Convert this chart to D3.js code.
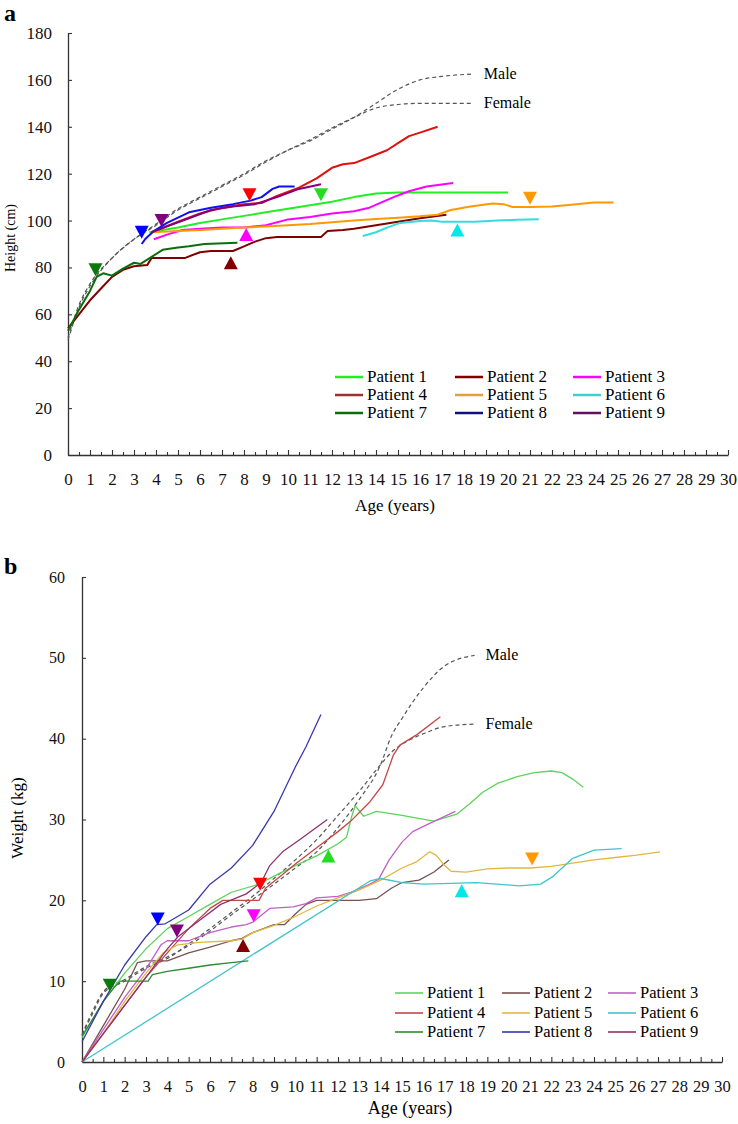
<!DOCTYPE html>
<html><head><meta charset="utf-8">
<script src="https://cdn.jsdelivr.net/npm/d3@7/dist/d3.min.js"></script>
<style>body{margin:0;background:#fff}svg text{font-family:"Liberation Serif","Times New Roman","DejaVu Serif",serif}</style>
</head><body>
<script>
// ---------- Panel a: Height (cm) vs age ----------
const heightMale   = [[0,50],[0.5,64],[1,73],[2,84],[3,92],[4,98.5],[5,105],[6,110],[7,115],[8,120],[9,125.5],[10,130],[11,134],[12,139],[13,144],[14,150],[15,156],[16,160],[17,161.5],[18.4,162.5]];
const heightFemale = [[0,49],[0.5,63],[1,72],[2,84],[3,92],[4,98],[5,104.5],[6,109.5],[7,114.5],[8,119.5],[9,125],[10,130],[11,134.5],[12,139.5],[13,144],[14,148],[15,149.5],[16,150],[18.4,150]];
const heightP1 = [[3.7,95],[5,97],[6,99],[7,100.5],[8,102],[9,103.5],[10,105],[11,106.5],[12,108],[13,110],[14,111.5],[15,112],[20,112]];
const heightP2 = [[0,54],[0.5,60],[1,66],[1.5,71],[2,76],[2.5,79],[3,80.5],[3.6,81],[3.8,84],[5.3,84],[6,86.5],[6.5,87],[7.5,87],[8,89],[8.5,91],[9,92.5],[9.5,93],[11.5,93],[11.8,95.5],[12.5,96],[13,96.5],[14,98],[15,99.5],[16,101],[17.2,102.5]];
const heightP3 = [[3.9,92],[4.5,94],[5.2,96],[6,96.5],[7,97],[8,97],[9,98],[10,100.5],[11,101.5],[12,103],[13,104],[13.7,105.5],[14.3,108],[14.8,110],[15.5,112.5],[16.3,114.5],[17.5,116]];
const heightP4 = [[3.8,95],[5,99.5],[6,103],[7,105.5],[8,107],[8.8,107.5],[9.5,110.5],[10.5,114],[11.3,118],[12,122.5],[12.5,124],[13,124.5],[13.7,127],[14.5,130],[15,133],[15.5,136],[16,137.5],[16.8,140]];
const heightP5 = [[3.8,95],[5,95.5],[6,96],[7,96.5],[8,97],[9,97.5],[10,98],[11,98.5],[12,99.3],[13,100],[14,100.7],[15,101.2],[16,101.8],[16.8,102.5],[17.4,104.5],[18.3,106],[19.3,107.3],[19.8,107],[20.2,105.8],[21,105.8],[22,106],[23,106.8],[23.9,107.7],[24.8,107.7]];
const heightP6 = [[13.4,93.4],[14,95],[14.5,97],[15.1,99],[16,99.8],[16.5,100],[17,99.5],[18.5,99.5],[19.5,100],[20.4,100.3],[21.4,100.6]];
const heightP7 = [[0,53],[0.5,62],[1,70],[1.3,76],[1.6,77.5],[2,76.5],[2.5,79.5],[3,82],[3.3,81.5],[3.8,84.5],[4.3,87.5],[5,88.5],[5.5,89],[6.2,90],[7.7,90.5]];
const heightP8 = [[3.35,90],[3.5,92],[3.9,95.5],[4.5,99],[5.5,103.5],[6.5,105.5],[7.5,107],[8.3,108.5],[8.8,110],[9.3,113.5],[9.6,114.5],[10.3,114.5]];
const heightP9 = [[3.8,95],[4.5,97.5],[5.5,101],[6.5,104.5],[7.5,106],[8.5,107],[9.5,110],[10.5,113.5],[11.5,115.5]];
// markers: patient, age, value, direction
const heightMarkers = [[7,1.25,79,"down"],[8,3.35,95,"down"],[9,4.25,100,"down"],[4,8.25,111,"down"],[3,8.1,94,"up"],[2,7.4,82,"up"],[1,11.5,111,"down"],[5,21,109.5,"down"],[6,17.7,96,"up"]];
const heightTicks = [0,20,40,60,80,100,120,140,160,180];

// ---------- Panel b: Weight (kg) vs age ----------
const weightMale   = [[0,3.4],[0.5,6.3],[1,8.7],[2,10.2],[3,11.8],[4,13],[5,14.4],[6,16.2],[7,18.2],[8,20.1],[9,22],[10,24],[11,26],[12,29],[13,32.5],[14,36.8],[14.5,40.3],[15,42.5],[16,46.3],[17,49],[18.4,50.3]];
const weightFemale = [[0,3.3],[0.5,6],[1,8.5],[2,10],[3,11.6],[4,12.8],[5,14.6],[6,16.5],[7,18.5],[8,20.5],[9,22.7],[10,25],[11,27.5],[12,30.5],[13,33.5],[14,36.8],[14.5,38.3],[15,39.3],[16,40.6],[17,41.5],[18.4,41.8]];
const weightP1 = [[0,3],[1,7.5],[2,11],[3,14],[4,16.5],[5,18],[6,19.5],[7,21],[8.3,22],[9,23],[10,24.3],[11,25.5],[12,27],[12.4,27.8],[12.6,30],[12.8,31.7],[13.2,30.4],[13.8,31],[15,30.5],[16.5,29.8],[17.6,30.7],[18.2,32],[18.8,33.4],[19.5,34.5],[20.4,35.3],[21.2,35.8],[22,36],[22.5,35.8],[23,35],[23.5,34]];
const weightP2 = [[0,0],[1,4.5],[2,9],[2.6,12.3],[3,12.5],[4,12.5],[4.5,13],[5,13.5],[6,14.2],[7,15],[7.5,15.3],[8,16],[9,17],[9.5,17],[10,18.3],[10.5,19.5],[11,20],[12,20],[13,20],[13.8,20.2],[14.5,21.5],[15,22.2],[15.8,22.5],[16.5,23.5],[17.2,25]];
const weightP3 = [[0,0],[1,4],[2,8],[3,11.5],[3.7,14.5],[4,15],[5,15],[5.5,15.5],[6,16],[7,16.7],[7.7,17],[8,17.3],[8.8,19],[9.9,19.2],[10.5,19.6],[11,20.3],[12,20.5],[12.6,21],[13.5,22],[13.9,22.6],[14.4,25],[15,27.2],[15.5,28.5],[16.2,29.4],[17.5,31]];
const weightP4 = [[0,0],[1,3.5],[2,7],[3,10.5],[4,13.5],[5,16.5],[6,19],[6.6,20],[8.3,20],[8.6,21.5],[9.4,23.2],[10,24.5],[11,26.5],[12,28.5],[12.6,29.8],[13.5,32.2],[14.1,34.3],[14.6,38],[14.9,39.2],[15.7,40.5],[16.8,42.7]];
const weightP5 = [[0,0],[1,3.5],[2,7.5],[3,11],[3.8,13.5],[4.5,14.5],[5.5,14.8],[7,15],[7.5,15.2],[8,16],[9,16.9],[10,18],[11,19.3],[12,20.3],[13,21.3],[14,22.5],[15,24],[15.7,24.8],[16.3,26],[16.6,25.6],[17,24.3],[17.3,23.6],[18,23.5],[19,23.9],[20,24],[21,24],[22,24.2],[23,24.6],[24,25],[25,25.3],[26,25.6],[27.1,26]];
const weightP6 = [[0,0],[13.5,22.4],[14,22.7],[15,22.2],[16,22],[18.5,22.2],[20.5,21.8],[21.5,22],[22.1,23],[23,25.2],[24,26.2],[25.3,26.4]];
const weightP7 = [[0,3.2],[0.5,5.3],[1,7.5],[1.5,9.2],[1.8,10],[3.1,10],[3.3,10.8],[4,11.2],[5,11.6],[6,12],[7,12.3],[7.8,12.5]];
const weightP8 = [[0,2.5],[1,7.5],[2,12],[3,15.5],[3.5,17],[3.9,17.1],[5,18.8],[6,22],[7,24],[8,26.8],[9,31],[10,36.5],[10.5,39],[11.2,43]];
const weightP9 = [[0,0],[1,3.5],[2,7],[3,10.5],[4,14],[4.5,15.5],[5.5,17.5],[6.5,19.5],[7.7,20.8],[8.4,22.2],[8.8,24.3],[9.4,26],[10.2,27.5],[11.5,30]];
const weightMarkers = [[7,1.3,9.5,"down"],[8,3.55,17.7,"down"],[9,4.45,16.2,"down"],[4,8.35,22,"down"],[3,8.05,18.1,"down"],[2,7.55,14.4,"up"],[1,11.55,25.5,"up"],[5,21.1,25.1,"down"],[6,17.8,21.2,"up"]];
const weightTicks = [0,10,20,30,40,50,60];

const ageTicks = d3.range(0,31);
const patientNames = ["Patient 1","Patient 2","Patient 3","Patient 4","Patient 5","Patient 6","Patient 7","Patient 8","Patient 9"];
const colorsA  = ["#22ee22","#800000","#ff00ff","#e01010","#ff9900","#33dddd","#0a6e0a","#1010f0","#800080"];
const legendA  = ["#22ee22","#800000","#ff00ff","#a03030","#e0a040","#40d0d0","#0a6e0a","#10107a","#601060"];
const colorsB  = ["#5dd35d","#7a5050","#c060c8","#c04848","#e0b840","#40c4cc","#2e8b2e","#3838b0","#903070"];
const markerColors = ["#22dd22","#800000","#ff00ff","#ff0000","#ff9900","#00e8e8","#0a7a0a","#0000ff","#800080"];
const FONT = "'Liberation Serif', 'Times New Roman', 'DejaVu Serif', serif";

const svg = d3.select("body").append("svg").attr("width",738).attr("height",1124).attr("font-family",FONT);

function panel(cfg){
  const g = svg.append("g");
  const x = d3.scaleLinear([0,30],cfg.xr), y = d3.scaleLinear([0,cfg.ymax],cfg.yr);
  g.append("text").attr("x",4).attr("y",cfg.letterY).attr("font-weight","bold").attr("font-size",24).text(cfg.letter);
  const ya = g.append("g").attr("transform",`translate(${cfg.xr[0]},0)`)
    .call(d3.axisLeft(y).tickValues(cfg.yTicks).tickSize(-4).tickSizeOuter(0).tickPadding(cfg.yPad));
  const xa = g.append("g").attr("transform",`translate(0,${cfg.yr[0]})`)
    .call(d3.axisBottom(x).tickValues(ageTicks).tickSize(-5).tickSizeOuter(0).tickPadding(cfg.xPad));
  g.append("g").attr("transform",`translate(0,${cfg.yr[0]})`)
    .call(d3.axisBottom(x).tickValues(d3.range(0.5,30,1)).tickSize(-3).tickFormat("").tickSizeOuter(0))
    .select(".domain").remove();
  g.selectAll("g").attr("font-family",FONT);
  g.selectAll(".domain").attr("stroke","#333").attr("stroke-width",1.3);
  g.selectAll(".tick line").attr("stroke","#333").attr("stroke-width",1.1);
  ya.selectAll("text").attr("font-size",cfg.yFont).attr("fill","#111");
  xa.selectAll("text").attr("font-size",cfg.xFont).attr("fill","#111");
  g.append("text").attr("x",(cfg.xr[0]+cfg.xr[1])/2+cfg.titleDx).attr("y",cfg.xTitleY).attr("text-anchor","middle")
    .attr("font-size",cfg.titleFont).text("Age (years)");
  g.append("text").attr("transform",`translate(${cfg.yTitleX},${cfg.yTitleY}) rotate(-90)`).attr("text-anchor","middle")
    .attr("font-size",cfg.yTitleFont).text(cfg.yTitle);
  const line = d3.line().x(d=>x(d[0])).y(d=>y(d[1])).curve(d3.curveMonotoneX);
  [[cfg.male,"Male"],[cfg.female,"Female"]].forEach(([d,lab])=>{
    g.append("path").attr("d",line(d)).attr("fill","none").attr("stroke","#555").attr("stroke-width",1.2).attr("stroke-dasharray","4,3");
    const last = d[d.length-1];
    g.append("text").attr("x",x(last[0])+11).attr("y",y(last[1])+5).attr("font-size",cfg.refFont).text(lab);
  });
  const lin = d3.line().x(d=>x(d[0])).y(d=>y(d[1]));
  cfg.series.forEach((d,i)=>{
    g.append("path").attr("d",lin(d)).attr("fill","none").attr("stroke",cfg.colors[i]).attr("stroke-width",cfg.lw).attr("stroke-linejoin","round");
  });
  cfg.markers.forEach(([p,a,v,dir])=>{
    const cx=x(a), cy=y(v), w=7, h=6.5;
    const pts = dir==="down" ? [[cx-w,cy-h],[cx+w,cy-h],[cx,cy+h]] : [[cx-w,cy+h],[cx+w,cy+h],[cx,cy-h]];
    g.append("path").attr("d","M"+pts.map(q=>q.join(",")).join("L")+"Z").attr("fill",markerColors[p-1]);
  });
  patientNames.forEach((n,i)=>{
    const c=i%3, r=Math.floor(i/3);
    const lx = cfg.legX[c], ly = cfg.legY[r];
    g.append("line").attr("x1",lx).attr("x2",lx+28).attr("y1",ly).attr("y2",ly).attr("stroke",cfg.legColors[i]).attr("stroke-width",cfg.legLw);
    g.append("text").attr("x",lx+32).attr("y",ly+5).attr("font-size",cfg.legFont).text(n);
  });
}

panel({letter:"a",letterY:21,xr:[68,728],yr:[455,33],ymax:180,yTicks:heightTicks,yFont:17,yPad:16,xFont:17,xPad:18,
  titleDx:-3,xTitleY:511,titleFont:17,yTitle:"Height (cm)",yTitleX:15,yTitleY:238,yTitleFont:14,
  male:heightMale,female:heightFemale,refFont:16,
  series:[heightP1,heightP2,heightP3,heightP4,heightP5,heightP6,heightP7,heightP8,heightP9],colors:colorsA,lw:2,
  markers:heightMarkers,legX:[335,455,573],legY:[377,395,413],legColors:legendA,legLw:2.5,legFont:17});

panel({letter:"b",letterY:574,xr:[82,722],yr:[1062,577],ymax:60,yTicks:weightTicks,yFont:16,yPad:17,xFont:16.5,xPad:18,
  titleDx:8,xTitleY:1114,titleFont:18,yTitle:"Weight (kg)",yTitleX:23,yTitleY:818,yTitleFont:17,
  male:weightMale,female:weightFemale,refFont:16,
  series:[weightP1,weightP2,weightP3,weightP4,weightP5,weightP6,weightP7,weightP8,weightP9],colors:colorsB,lw:1.3,
  markers:weightMarkers,legX:[395,502,608],legY:[993,1013,1032],legColors:colorsB,legLw:1.6,legFont:16.5});
</script>
</body></html>
